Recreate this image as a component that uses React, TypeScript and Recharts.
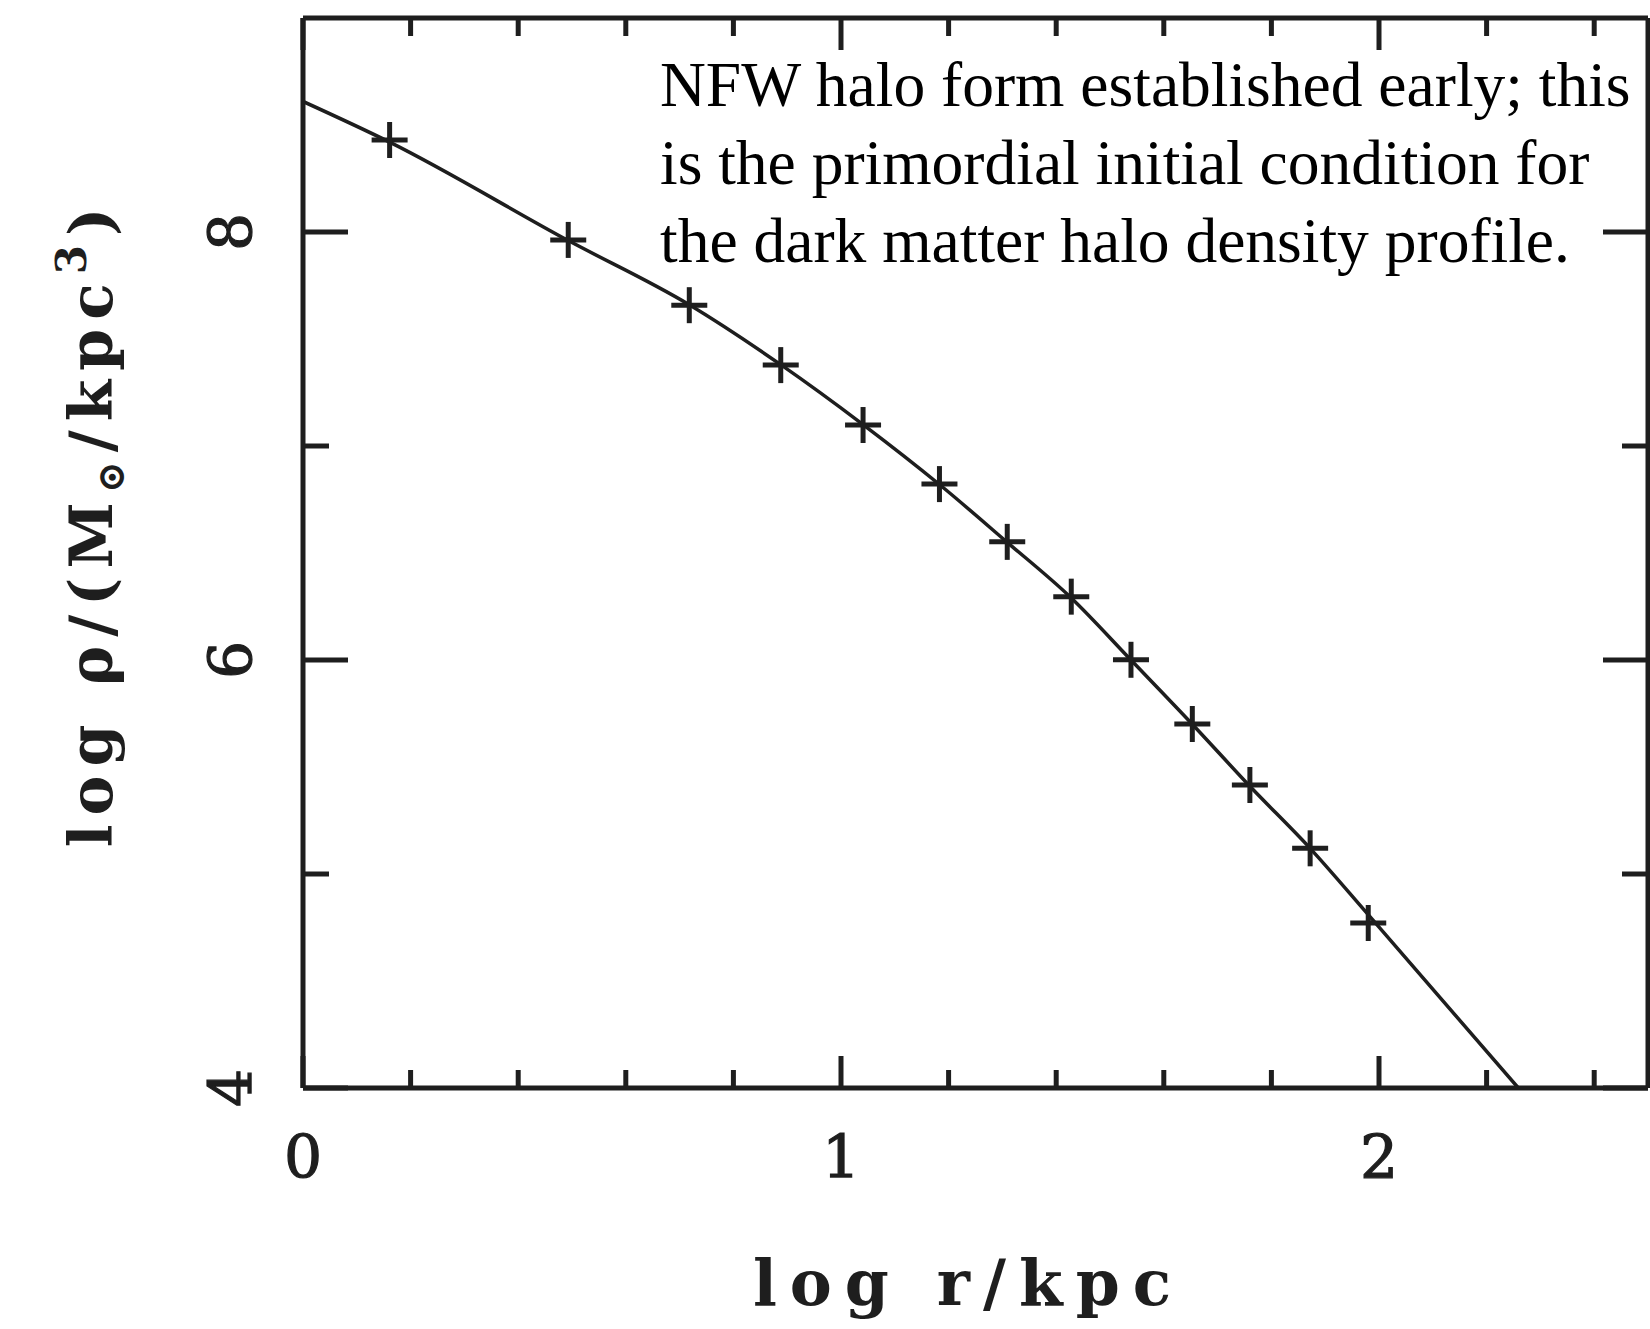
import React from 'react';
import { ComposedChart, Line, Scatter, XAxis, YAxis } from 'recharts';

// NFW profile curve (log r/kpc, log rho)
const profileLogR = [0, 0.161, 0.493, 0.718, 0.888, 1.041, 1.183, 1.309, 1.428, 1.539, 1.653, 1.76, 1.872, 1.98, 2.259];
const profileLogRho = [8.61, 8.42, 7.96, 7.66, 7.38, 7.1, 6.82, 6.55, 6.29, 6.0, 5.7, 5.41, 5.12, 4.81, 4.0];

// simulated halo points (crosses)
const haloLogR = [0.161, 0.493, 0.718, 0.888, 1.041, 1.183, 1.309, 1.428, 1.539, 1.653, 1.76, 1.872, 1.98];
const haloLogRho = [8.43, 7.963, 7.658, 7.378, 7.098, 6.822, 6.552, 6.296, 6.001, 5.701, 5.416, 5.12, 4.771];

const xTicks = [0, 0.2, 0.4, 0.6, 0.8, 1, 1.2, 1.4, 1.6, 1.8, 2, 2.2, 2.4];
const yTicks = [4, 5, 6, 7, 8];
const xLabelled = [0, 1, 2];
const yLabelled = [4, 6, 8];
const xDomain = [0, 2.5];
const yDomain = [4, 9];

const xTitle = 'log r/kpc';
const noteLines = [
  'NFW halo form established early; this',
  'is the primordial initial condition for',
  'the dark matter halo density profile.',
];

const profileData = profileLogR.map((x, i) => ({ x, y: profileLogRho[i] }));
const haloData = haloLogR.map((x, i) => ({ x, y: haloLogRho[i] }));

const INK = '#1e1e1e';
const AXIS_FONT = '"DejaVu Serif", serif';
const FRAME_W = 5;

const inList = (list: number[], v: number) => list.some((t) => Math.abs(t - v) < 1e-9);

function BottomTick(props: any) {
  const { x, y, payload } = props;
  const v = payload.value;
  const major = inList(xLabelled, v);
  return (
    <g>
      <line x1={x} x2={x} y1={y} y2={y - (major ? 32 : 18)} stroke={INK} strokeWidth={FRAME_W} />
      {major && (
        <text
          x={x}
          y={y + 90}
          textAnchor="middle"
          fontFamily={AXIS_FONT}
          fontSize={60}
          fill={INK}
          stroke={INK}
          strokeWidth={1.2}
        >
          {String(v)}
        </text>
      )}
    </g>
  );
}

function TopTick(props: any) {
  const { x, y, payload } = props;
  const major = inList(xLabelled, payload.value);
  return <line x1={x} x2={x} y1={y} y2={y + (major ? 32 : 18)} stroke={INK} strokeWidth={FRAME_W} />;
}

function LeftTick(props: any) {
  const { x, y, payload } = props;
  const v = payload.value;
  const major = inList(yLabelled, v);
  const lx = x - 51;
  return (
    <g>
      <line x1={x} x2={x + (major ? 45 : 26)} y1={y} y2={y} stroke={INK} strokeWidth={FRAME_W} />
      {major && (
        <text
          x={lx}
          y={y}
          transform={`rotate(-90, ${lx}, ${y})`}
          textAnchor="middle"
          fontFamily={AXIS_FONT}
          fontSize={60}
          fill={INK}
          stroke={INK}
          strokeWidth={1.2}
        >
          {String(v)}
        </text>
      )}
    </g>
  );
}

function RightTick(props: any) {
  const { x, y, payload } = props;
  const major = inList(yLabelled, payload.value);
  return <line x1={x} x2={x - (major ? 45 : 26)} y1={y} y2={y} stroke={INK} strokeWidth={FRAME_W} />;
}

function Cross(props: any) {
  const { cx, cy } = props;
  if (cx == null || cy == null) return null;
  const a = 18;
  return (
    <g>
      <line x1={cx - a} x2={cx + a} y1={cy} y2={cy} stroke={INK} strokeWidth={5} />
      <line x1={cx} x2={cx} y1={cy - a} y2={cy + a} stroke={INK} strokeWidth={5} />
    </g>
  );
}

function XTitle(props: any) {
  const vb = props.viewBox || {};
  const cx = vb.x + vb.width / 2;
  return (
    <text
      x={cx - 7}
      y={1305}
      textAnchor="middle"
      fontFamily={AXIS_FONT}
      fontWeight="bold"
      fontSize={63}
      letterSpacing={13}
      fill={INK}
    >
      {xTitle}
    </text>
  );
}

function YTitle(props: any) {
  const vb = props.viewBox || {};
  const cy = vb.y + vb.height / 2 - 30;
  const bx = 112;
  return (
    <text
      x={bx}
      y={cy}
      transform={`rotate(-90, ${bx}, ${cy})`}
      textAnchor="middle"
      fontFamily={AXIS_FONT}
      fontWeight="bold"
      fontSize={60}
      letterSpacing={9}
      fill={INK}
    >
      <tspan>log ρ/(M</tspan>
      <tspan dy={12} fontSize={38}>⊙</tspan>
      <tspan dy={-12}>/kpc</tspan>
      <tspan dy={-26} fontSize={42}>3</tspan>
      <tspan dy={26}>)</tspan>
    </text>
  );
}

export default function App() {
  return (
    <div style={{ position: 'relative', width: 1650, height: 1329, background: '#fff' }}>
      <style>{'body{margin:0;background:#fff}'}</style>
      <ComposedChart
        width={1650}
        height={1329}
        margin={{ top: 17, right: 1, left: 203, bottom: 141 }}
      >
        <XAxis
          xAxisId={0}
          dataKey="x"
          type="number"
          domain={xDomain}
          ticks={xTicks}
          interval={0}
          allowDataOverflow
          height={100}
          tickSize={0}
          tickMargin={0}
          tickLine={false}
          axisLine={{ stroke: INK, strokeWidth: FRAME_W }}
          tick={<BottomTick />}
          label={XTitle}
        />
        <XAxis
          xAxisId="top"
          orientation="top"
          dataKey="x"
          type="number"
          domain={xDomain}
          ticks={xTicks}
          interval={0}
          allowDataOverflow
          height={1}
          tickSize={0}
          tickMargin={0}
          tickLine={false}
          axisLine={{ stroke: INK, strokeWidth: FRAME_W }}
          tick={<TopTick />}
        />
        <YAxis
          yAxisId={0}
          dataKey="y"
          type="number"
          domain={yDomain}
          ticks={yTicks}
          interval={0}
          allowDataOverflow
          width={100}
          tickSize={0}
          tickMargin={0}
          tickLine={false}
          axisLine={{ stroke: INK, strokeWidth: FRAME_W }}
          tick={<LeftTick />}
          label={YTitle}
        />
        <YAxis
          yAxisId="right"
          orientation="right"
          dataKey="y"
          type="number"
          domain={yDomain}
          ticks={yTicks}
          interval={0}
          allowDataOverflow
          width={1}
          tickSize={0}
          tickMargin={0}
          tickLine={false}
          axisLine={{ stroke: INK, strokeWidth: FRAME_W }}
          tick={<RightTick />}
        />
        {/* invisible companion series so the mirrored frame axes get drawn */}
        <Line
          data={profileData}
          dataKey="y"
          xAxisId="top"
          yAxisId="right"
          stroke="none"
          dot={false}
          activeDot={false}
          legendType="none"
          isAnimationActive={false}
        />
        <Line
          data={profileData}
          dataKey="y"
          xAxisId={0}
          yAxisId={0}
          type="monotoneX"
          stroke={INK}
          strokeWidth={3.5}
          dot={false}
          activeDot={false}
          isAnimationActive={false}
        />
        <Scatter
          data={haloData}
          dataKey="y"
          xAxisId={0}
          yAxisId={0}
          shape={<Cross />}
          isAnimationActive={false}
        />
      </ComposedChart>
      <div
        style={{
          position: 'absolute',
          left: 660,
          top: 46,
          fontFamily: '"Liberation Serif", "Times New Roman", serif',
          fontSize: 63.5,
          lineHeight: '78px',
          color: '#000',
          whiteSpace: 'pre',
        }}
      >
        {noteLines.map((l, i) => (
          <div key={i}>{l}</div>
        ))}
      </div>
    </div>
  );
}
